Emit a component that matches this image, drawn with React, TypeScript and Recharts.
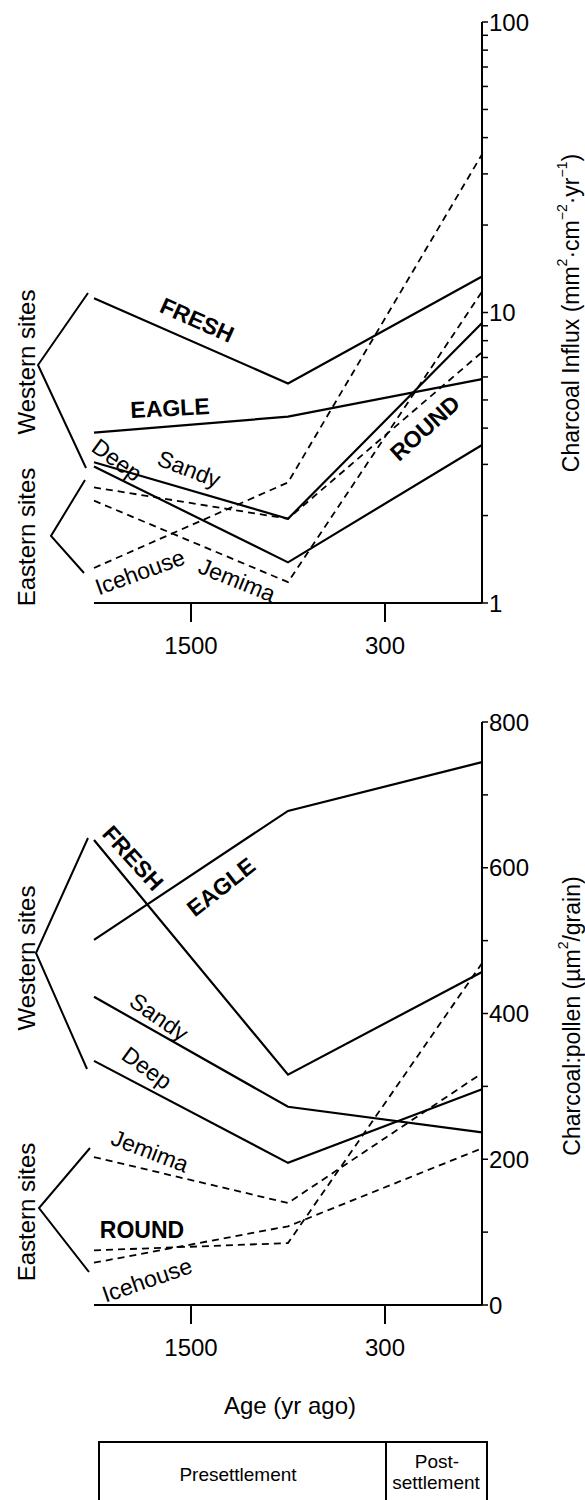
import React from 'react';
import { LineChart, Line, XAxis, YAxis } from 'recharts';

// three age bins, axis ticks sit between them
const binX = [0, 2, 4];
const xTicks = [1, 3];
const xTickLabels = ['1500', '300'];

// top panel: charcoal influx (log scale)
const influxTicks = [1, 2, 3, 4, 5, 6, 7, 8, 9, 10, 20, 30, 40, 50, 60, 70, 80, 90, 100];
const influxMajor = [1, 10, 100];
const freshInflux = [11.2, 5.7, 13.3];
const eagleInflux = [3.86, 4.38, 5.9];
const sandyInflux = [3.05, 1.95, 9.2];
const deepInflux = [2.95, 1.38, 3.5];
const roundInflux = [2.5, 1.95, 7.3];
const jemimaInflux = [2.25, 1.18, 11.8];
const icehouseInflux = [1.32, 2.6, 35];

// bottom panel: charcoal:pollen ratio
const ratioTicks = [0, 100, 200, 300, 400, 500, 600, 700, 800];
const ratioMajor = [0, 200, 400, 600, 800];
const freshRatio = [638, 316, 457];
const eagleRatio = [501, 678, 745];
const sandyRatio = [423, 272, 237];
const deepRatio = [335, 195, 296];
const jemimaRatio = [203, 140, 318];
const roundRatio = [75, 85, 469];
const icehouseRatio = [58, 108, 215];

const font = '"Liberation Sans", Arial, Helvetica, sans-serif';

const influxRows = binX.map((x, i) => ({
  x,
  fresh: freshInflux[i],
  eagle: eagleInflux[i],
  sandy: sandyInflux[i],
  deep: deepInflux[i],
  round: roundInflux[i],
  jemima: jemimaInflux[i],
  icehouse: icehouseInflux[i],
}));

const ratioRows = binX.map((x, i) => ({
  x,
  fresh: freshRatio[i],
  eagle: eagleRatio[i],
  sandy: sandyRatio[i],
  deep: deepRatio[i],
  round: roundRatio[i],
  jemima: jemimaRatio[i],
  icehouse: icehouseRatio[i],
}));

const solidKeys = ['fresh', 'eagle', 'sandy', 'deep'];
const dashedKeys = ['round', 'jemima', 'icehouse'];

const tickStyle = { fontSize: 24, fill: '#000', fontFamily: font };
const axisStroke = { stroke: '#000', strokeWidth: 2 };

function series() {
  return [
    ...solidKeys.map((k) => (
      <Line key={k} type="linear" dataKey={k} stroke="#000" strokeWidth={2.2} dot={false} isAnimationActive={false} />
    )),
    ...dashedKeys.map((k) => (
      <Line key={k} type="linear" dataKey={k} stroke="#000" strokeWidth={1.8} strokeDasharray="7 5" dot={false} isAnimationActive={false} />
    )),
  ];
}

function xAxis() {
  return (
    <XAxis
      type="number"
      dataKey="x"
      domain={[0, 4]}
      ticks={xTicks}
      interval={0}
      height={60}
      tickSize={19}
      tickMargin={15}
      axisLine={axisStroke}
      tickLine={{ stroke: '#000', strokeWidth: 2 }}
      tick={tickStyle}
      tickFormatter={(v: number) => xTickLabels[xTicks.indexOf(v)] ?? ''}
    />
  );
}

const lbl = (x: number, y: number, angle: number, text: string, bold = false) => (
  <text
    key={text + y}
    x={x}
    y={y}
    transform={`rotate(${angle}, ${x}, ${y})`}
    textAnchor="middle"
    dominantBaseline="central"
    fontSize={23}
    fontWeight={bold ? 'bold' : 'normal'}
  >
    {text}
  </text>
);

export default function App() {
  return (
    <div style={{ position: 'absolute', left: 0, top: 0, width: 585, height: 1500, background: '#fff', fontFamily: font, overflow: 'hidden' }}>
      <div style={{ position: 'absolute', left: 0, top: 0 }}>
        <LineChart width={585} height={680} data={influxRows} margin={{ top: 22, right: 43, left: 94, bottom: 17 }}>
          {xAxis()}
          <YAxis
            orientation="right"
            type="number"
            scale="log"
            domain={[1, 100]}
            allowDataOverflow
            ticks={influxTicks}
            interval={0}
            width={60}
            tickSize={6}
            tickMargin={1}
            axisLine={axisStroke}
            tickLine={{ stroke: '#000', strokeWidth: 1.5 }}
            tick={tickStyle}
            tickFormatter={(v: number) => (influxMajor.includes(v) ? String(v) : '')}
          />
          {series()}
        </LineChart>
      </div>
      <div style={{ position: 'absolute', left: 0, top: 680 }}>
        <LineChart width={585} height={740} data={ratioRows} margin={{ top: 42, right: 43, left: 94, bottom: 55 }}>
          {xAxis()}
          <YAxis
            orientation="right"
            type="number"
            domain={[0, 800]}
            ticks={ratioTicks}
            interval={0}
            width={60}
            tickSize={6}
            tickMargin={1}
            axisLine={axisStroke}
            tickLine={{ stroke: '#000', strokeWidth: 1.5 }}
            tick={tickStyle}
            tickFormatter={(v: number) => (ratioMajor.includes(v) ? String(v) : '')}
          />
          {series()}
        </LineChart>
      </div>

      <svg width={585} height={1500} style={{ position: 'absolute', left: 0, top: 0, pointerEvents: 'none' }} fontFamily={font}>
        {/* site labels, top panel */}
        {lbl(197, 320, 24, 'FRESH', true)}
        {lbl(170, 408, -3, 'EAGLE', true)}
        {lbl(425, 428, -42, 'ROUND', true)}
        {lbl(117, 460, 36, 'Deep')}
        {lbl(189, 469, 21, 'Sandy')}
        {lbl(140, 572, -20, 'Icehouse')}
        {lbl(237, 580, 22, 'Jemima')}

        {/* site labels, bottom panel */}
        {lbl(133, 858, 48, 'FRESH', true)}
        {lbl(221, 887, -38, 'EAGLE', true)}
        {lbl(159, 1017, 35, 'Sandy')}
        {lbl(147, 1068, 36, 'Deep')}
        {lbl(150, 1151, 21, 'Jemima')}
        {lbl(142, 1230, 0, 'ROUND', true)}
        {lbl(147, 1280, -19, 'Icehouse')}

        {/* group brackets */}
        <g fill="none" stroke="#000" strokeWidth={2}>
          <polyline points="88,293 38,365 86,468" />
          <polyline points="85,480 51,536 84,573" />
          <polyline points="88,838 36,953 87,1069" />
          <polyline points="90,1148 39,1208 89,1272" />
        </g>
        <g fontSize={24} textAnchor="middle" dominantBaseline="central">
          <text transform="translate(26,362) rotate(-90)">Western sites</text>
          <text transform="translate(26,537) rotate(-90)">Eastern sites</text>
          <text transform="translate(26,958) rotate(-90)">Western sites</text>
          <text transform="translate(26,1212) rotate(-90)">Eastern sites</text>
        </g>

        {/* axis titles */}
        <text transform="translate(571,313) rotate(-90)" textAnchor="middle" dominantBaseline="central" fontSize={23}>
          Charcoal Influx (mm<tspan fontSize={14} dy={-9}>2</tspan>
          <tspan dy={9}>·cm</tspan>
          <tspan fontSize={14} dy={-9}>−2</tspan>
          <tspan dy={9}>·yr</tspan>
          <tspan fontSize={14} dy={-9}>−1</tspan>
          <tspan dy={9}>)</tspan>
        </text>
        <text transform="translate(572,1016) rotate(-90)" textAnchor="middle" dominantBaseline="central" fontSize={23}>
          Charcoal:pollen (µm<tspan fontSize={14} dy={-9}>2</tspan>
          <tspan dy={9}>/grain)</tspan>
        </text>
        <text x={290} y={1414} textAnchor="middle" fontSize={24}>Age (yr ago)</text>

        {/* settlement period box */}
        <g fill="none" stroke="#000" strokeWidth={2}>
          <rect x={99} y={1442} width={388} height={70} />
          <line x1={386} y1={1442} x2={386} y2={1512} />
        </g>
        <g fontSize={19} textAnchor="middle">
          <text x={238} y={1481}>Presettlement</text>
          <text x={437} y={1468}>Post-</text>
          <text x={436} y={1489}>settlement</text>
        </g>
      </svg>
    </div>
  );
}
